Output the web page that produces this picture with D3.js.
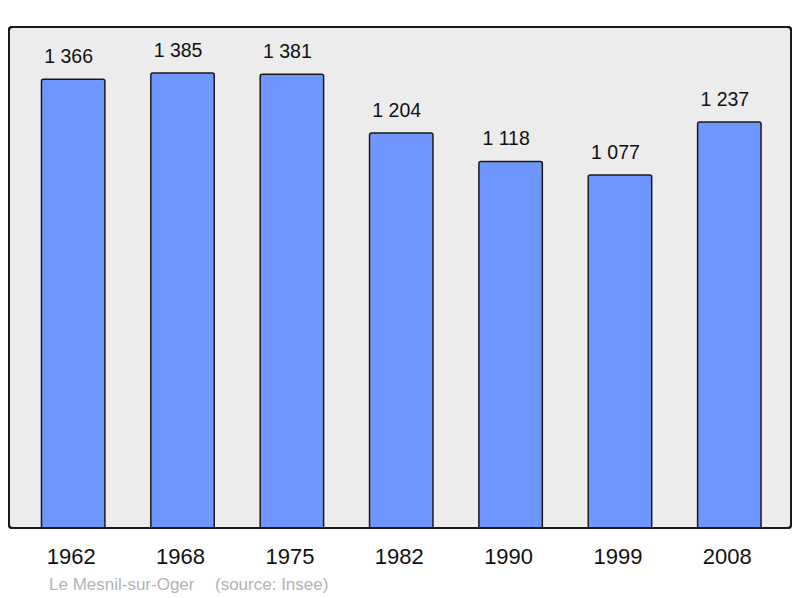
<!DOCTYPE html>
<html><head><meta charset="utf-8">
<script src="https://cdn.jsdelivr.net/npm/d3@7"></script>
<style>body{margin:0;background:#fff}svg{display:block;font-family:"Liberation Sans",Arial,sans-serif}</style>
</head><body><svg id="c" width="800" height="598"></svg>
<script>
const years = ["1962","1968","1975","1982","1990","1999","2008"];
const population = [1366,1385,1381,1204,1118,1077,1237];
const valueLabels = ["1 366","1 385","1 381","1 204","1 118","1 077","1 237"];
const title = "Le Mesnil-sur-Oger";
const source = "(source: Insee)";

const svg = d3.select("#c");
const panel = {x0:9, y0:27, x1:791, y1:528};
svg.append("rect").attr("x",panel.x0).attr("y",panel.y0)
  .attr("width",panel.x1-panel.x0).attr("height",panel.y1-panel.y0)
  .attr("rx",3).attr("fill","#ececec").attr("stroke","#1a1a1a").attr("stroke-width",2);

const x = d3.scaleBand().domain(years).range([18.5,784]).paddingInner(0.42).paddingOuter(0.21);
const y = d3.scaleLinear().domain([0,1524]).range([531.5,27]);

const g = svg.append("g");
g.selectAll("rect.bar").data(population).join("rect").attr("class","bar")
  .attr("x",(d,i)=>x(years[i])).attr("width",x.bandwidth())
  .attr("y",d=>y(d)).attr("height",d=>y(0)-y(d)).attr("rx",2)
  .attr("fill","#6f96ff").attr("stroke","#1a1a1a").attr("stroke-width",1.5);
svg.append("rect").attr("x",panel.x0).attr("y",panel.y0)
  .attr("width",panel.x1-panel.x0).attr("height",panel.y1-panel.y0)
  .attr("rx",3).attr("fill","none").attr("stroke","#1a1a1a").attr("stroke-width",2);
svg.append("rect").attr("x",0).attr("y",panel.y1+1).attr("width",800).attr("height",70).attr("fill","#fff");

g.selectAll("text.val").data(population).join("text").attr("class","val")
  .attr("x",(d,i)=>x(years[i])+x.bandwidth()/2 - 4.5).attr("y",d=>y(d)-16)
  .attr("text-anchor","middle").attr("font-size",19.5).attr("fill","#111")
  .text((d,i)=>valueLabels[i]);

const xAxis = d3.axisBottom(x).tickSize(0).tickPadding(0);
const ax = svg.append("g").attr("transform","translate(-2,548.5)").call(xAxis);
ax.select(".domain").remove();
ax.selectAll("text").attr("font-size",22).attr("fill","#111")
  .attr("font-family","'Liberation Sans',Arial,sans-serif").attr("dy","0.71em");

svg.append("text").attr("x",49).attr("y",590).attr("font-size",17).attr("fill","#b3b3b3")
  .text(title);
svg.append("text").attr("x",215).attr("y",590).attr("font-size",17).attr("fill","#b3b3b3")
  .text(source);
</script></body></html>
